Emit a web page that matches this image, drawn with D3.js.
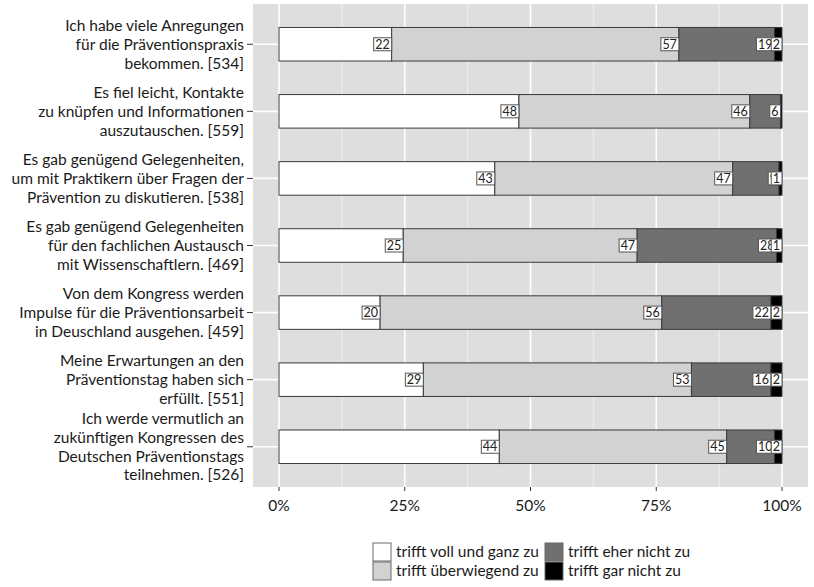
<!DOCTYPE html>
<html><head><meta charset="utf-8">
<script src="https://cdn.jsdelivr.net/npm/d3@7"></script>
<style>body{margin:0;background:#fff}svg{display:block}text{font-family:Lato,"Open Sans",sans-serif}</style>
</head><body>
<svg id="c" width="814" height="587"></svg>
<script>
const questions = [
  ["Ich habe viele Anregungen","für die Präventionspraxis","bekommen. [534]"],
  ["Es fiel leicht, Kontakte","zu knüpfen und Informationen","auszutauschen. [559]"],
  ["Es gab genügend Gelegenheiten,","um mit Praktikern über Fragen der","Prävention zu diskutieren. [538]"],
  ["Es gab genügend Gelegenheiten","für den fachlichen Austausch","mit Wissenschaftlern. [469]"],
  ["Von dem Kongress werden","Impulse für die Präventionsarbeit","in Deuschland ausgehen. [459]"],
  ["Meine Erwartungen an den","Präventionstag haben sich","erfüllt. [551]"],
  ["Ich werde vermutlich an","zukünftigen Kongressen des","Deutschen Präventionstags","teilnehmen. [526]"]
];
const seriesNames = ["trifft voll und ganz zu","trifft überwiegend zu","trifft eher nicht zu","trifft gar nicht zu"];
const vollUndGanz = [22.4, 47.7, 42.9, 24.7, 20.1, 28.7, 43.8];
const ueberwiegend = [57.1, 45.9, 47.3, 46.5, 56.0, 53.3, 45.2];
const eherNicht   = [19.0, 6.1, 9.2, 27.7, 21.7, 15.8, 9.5];
const garNicht    = [1.5, 0.3, 0.6, 1.1, 2.2, 2.2, 1.5];
const xTicks = [0, 25, 50, 75, 100];
const xTickLabels = ["0%","25%","50%","75%","100%"];

const colors = ["#ffffff","#d2d2d2","#707070","#000000"];
const series = [vollUndGanz, ueberwiegend, eherNicht, garNicht];

const svg = d3.select("#c");
const panel = {x0:253, x1:808, y0:4, y1:487};
const x = d3.scaleLinear().domain([0,100]).range([279, 782]);
const y = d3.scaleBand().domain(d3.range(questions.length)).range([panel.y0, panel.y1]).paddingInner(0.5).paddingOuter(0.35);

svg.append("rect").attr("x",panel.x0).attr("y",panel.y0).attr("width",panel.x1-panel.x0).attr("height",panel.y1-panel.y0).attr("fill","#dedede");
// minor grid
[12.5,37.5,62.5,87.5].forEach(v=>svg.append("line").attr("x1",x(v)).attr("x2",x(v)).attr("y1",panel.y0).attr("y2",panel.y1).attr("stroke","#f0f0f0").attr("stroke-width",1));
xTicks.forEach(v=>svg.append("line").attr("x1",x(v)).attr("x2",x(v)).attr("y1",panel.y0).attr("y2",panel.y1).attr("stroke","#fff").attr("stroke-width",1.6));
questions.forEach((q,i)=>svg.append("line").attr("x1",panel.x0).attr("x2",panel.x1).attr("y1",y(i)+y.bandwidth()/2).attr("y2",y(i)+y.bandwidth()/2).attr("stroke","#fff").attr("stroke-width",1.6));

// bars
questions.forEach((q,i)=>{
  let cum = 0;
  series.forEach((s,k)=>{
    const v = s[i];
    svg.append("rect").attr("x",x(cum)).attr("y",y(i)).attr("width",x(cum+v)-x(cum)).attr("height",y.bandwidth())
      .attr("fill",colors[k]).attr("stroke","#3a3a3a").attr("stroke-width",1);
    cum += v;
  });
});
// labels
questions.forEach((q,i)=>{
  let cum = 0;
  series.forEach((s,k)=>{
    const v = s[i]; cum += v;
    const lab = Math.round(v);
    if (lab === 0) return;
    const g = svg.append("g");
    const t = g.append("text").attr("x",x(cum)-2).attr("y",y(i)+y.bandwidth()/2+4.5).attr("text-anchor","end").attr("font-size",12.5).attr("fill","#222").text(lab);
    const bb = t.node().getBBox();
    g.insert("rect","text").attr("x",x(cum)-bb.width-3.5).attr("y",y(i)+y.bandwidth()/2-6.5).attr("width",bb.width+3.5).attr("height",13).attr("fill","#fff").attr("stroke","#555").attr("stroke-width",1);
  });
});

// y axis labels
questions.forEach((q,i)=>{
  const cy = y(i)+y.bandwidth()/2;
  svg.append("line").attr("x1",247).attr("x2",panel.x0).attr("y1",cy).attr("y2",cy).attr("stroke","#333");
  const lh = 18.8;
  const t = svg.append("text").attr("text-anchor","end").attr("font-size",15.5).attr("fill","#1a1a1a");
  q.forEach((line,j)=>{
    t.append("tspan").attr("x",244).attr("y",cy + (j-(q.length-1)/2)*lh + 5.5).text(line);
  });
});

// x axis
xTicks.forEach((v,i)=>{
  svg.append("line").attr("x1",x(v)).attr("x2",x(v)).attr("y1",panel.y1).attr("y2",panel.y1+4).attr("stroke","#333");
  svg.append("text").attr("x",x(v)).attr("y",511).attr("text-anchor","middle").attr("font-size",15.5).attr("fill","#1a1a1a").text(xTickLabels[i]);
});

// legend
const legPos = [[373,543],[373,562],[545,543],[545,562]];
seriesNames.forEach((n,k)=>{
  const [lx,ly] = legPos[k];
  svg.append("rect").attr("x",lx).attr("y",ly).attr("width",18).attr("height",18).attr("fill",colors[k]).attr("stroke","#6a6a6a").attr("stroke-width",1);
  svg.append("text").attr("x",lx+23).attr("y",ly+14).attr("font-size",15.5).attr("fill","#1a1a1a").text(n);
});
</script>
</body></html>
